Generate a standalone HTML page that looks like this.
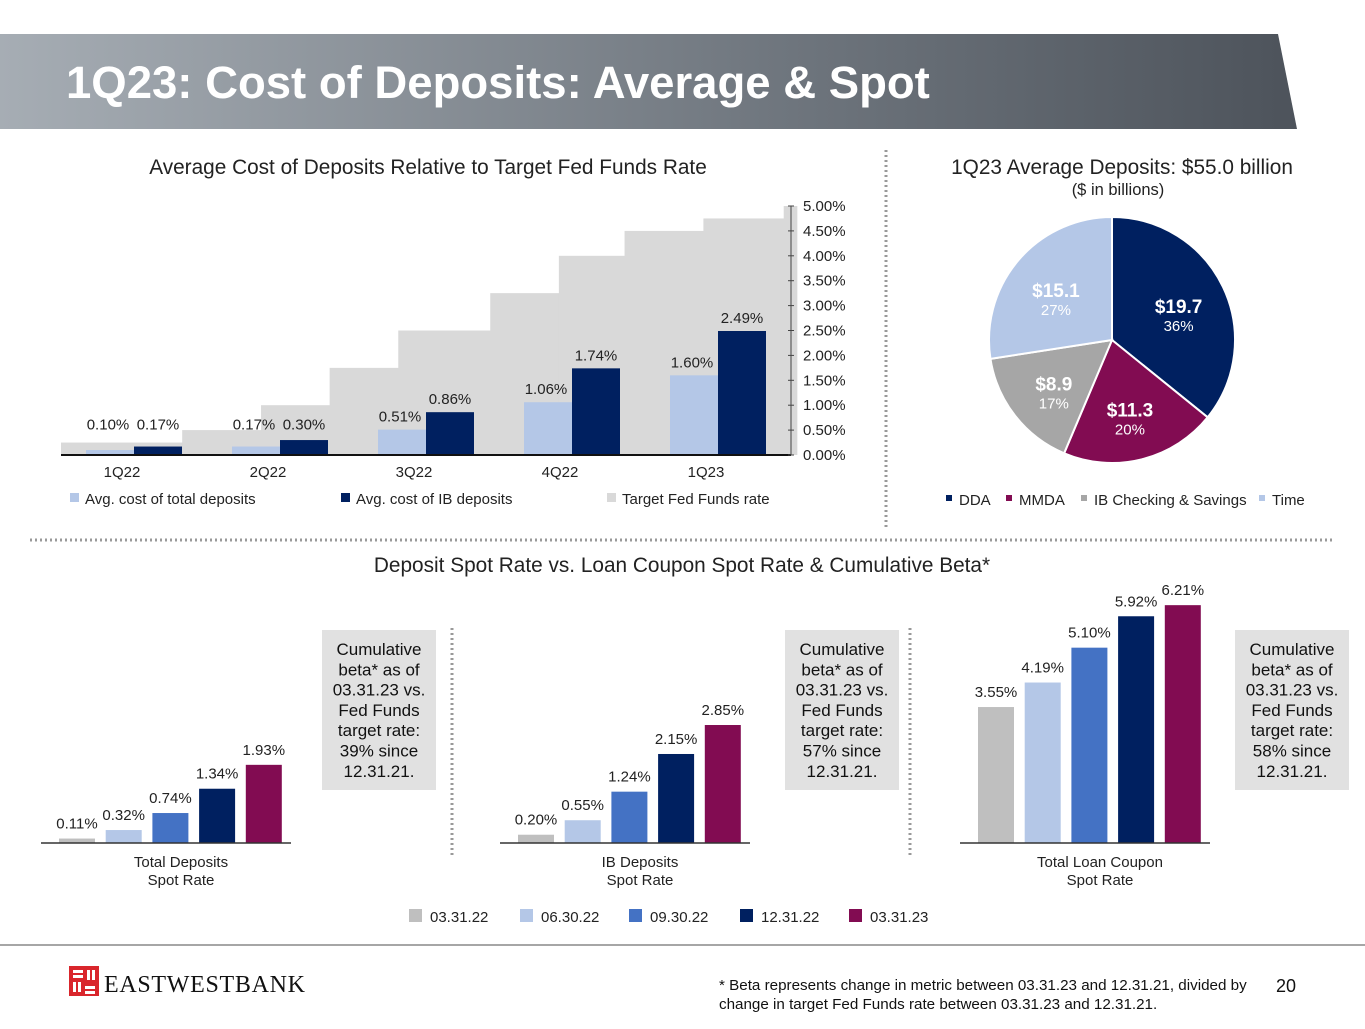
<!DOCTYPE html>
<html><head><meta charset="utf-8"><style>
body{margin:0;width:1365px;height:1024px;background:#fff;overflow:hidden;font-family:"Liberation Sans",Arial,sans-serif}
svg text{font-family:"Liberation Sans",Arial,sans-serif}
</style></head><body>
<svg id="s" width="1365" height="1024" viewBox="0 0 1365 1024" xmlns="http://www.w3.org/2000/svg">
<defs><linearGradient id="hg" x1="0" x2="1"><stop offset="0" stop-color="#a6adb4"/><stop offset="0.6" stop-color="#6f767e"/><stop offset="1" stop-color="#4d535b"/></linearGradient></defs>
<polygon points="0,34 1278,34 1297,129 0,129" fill="url(#hg)"/>
<text x="66" y="98" font-size="45.5" font-weight="bold" fill="#fff">1Q23: Cost of Deposits: Average &amp; Spot</text>
<text x="428" y="174" font-size="20.8" fill="#222" text-anchor="middle">Average Cost of Deposits Relative to Target Fed Funds Rate</text>
<line x1="886" y1="150" x2="886" y2="530" stroke="#999" stroke-width="3" stroke-dasharray="2,3"/>
<line x1="30" y1="540" x2="1335" y2="540" stroke="#999" stroke-width="3" stroke-dasharray="2,3"/>
<text x="1122" y="174" font-size="20.8" fill="#222" text-anchor="middle">1Q23 Average Deposits: $55.0 billion</text>
<text x="1118" y="195" font-size="16.5" fill="#222" text-anchor="middle">($ in billions)</text>
<g id="topchart"></g><g id="pie"></g><g id="bot"></g>
<text x="682" y="572" font-size="20.8" fill="#222" text-anchor="middle">Deposit Spot Rate vs. Loan Coupon Spot Rate &amp; Cumulative Beta*</text>
<line x1="452" y1="628" x2="452" y2="855" stroke="#999" stroke-width="3" stroke-dasharray="2,3"/>
<line x1="910" y1="628" x2="910" y2="855" stroke="#999" stroke-width="3" stroke-dasharray="2,3"/>
<line x1="0" y1="945" x2="1365" y2="945" stroke="#888" stroke-width="1.5"/>
<g>
<rect x="69" y="966" width="30" height="30" fill="#d9262c"/>
<path d="M73 970h10v3h-10zM73 975h10v3h-10zM87 970v10h3v-10zM92 970v10h3v-10zM73 982v10h3v-10zM78 982v10h3v-10zM85 986h10v3h-10zM85 991h10v3h-10z" fill="#fff"/>
<text x="104" y="992" font-size="24" fill="#111" textLength="201" style="font-family:'Liberation Serif',serif">EASTWESTBANK</text>
</g>
<text font-size="15.2" fill="#111"><tspan x="719" y="990">* Beta represents change in metric between 03.31.23 and 12.31.21, divided by</tspan><tspan x="719" y="1009">change in target Fed Funds rate between 03.31.23 and 12.31.21.</tspan></text>
<text x="1276" y="992" font-size="18" fill="#111">20</text>
</svg>
<script>
const NS='http://www.w3.org/2000/svg';
function mk(p,t,a,tx){const e=document.createElementNS(NS,t);for(const k in a)e.setAttribute(k,a[k]);if(tx!==undefined)e.textContent=tx;p.appendChild(e);return e;}
// ---- top bar chart data ----
const quarters=['1Q22','2Q22','3Q22','4Q22','1Q23'];
const avgTotal=[0.10,0.17,0.51,1.06,1.60];
const avgIB=[0.17,0.30,0.86,1.74,2.49];
// Fed funds upper target and the time (in quarters from start of 1Q22) each rate took effect
const fedRates=[0.25,0.5,1.0,1.75,2.5,3.25,4.0,4.5,4.75,5.0];
const fedStart=[0,0.83,1.37,1.84,2.31,2.94,3.41,3.86,4.4,4.95];
const fedEnd=5.04;
const yTicks=[0,0.5,1,1.5,2,2.5,3,3.5,4,4.5,5];
const topG=document.getElementById('topchart');
const y0=455,yPer=49.8;
const Y=v=>y0-v*yPer;
const TX=q=>61+q*146;
fedRates.forEach((v,i)=>{const x1=TX(fedStart[i]),x2=TX(i+1<fedStart.length?fedStart[i+1]:fedEnd);
 const r=mk(topG,'rect',{x:x1,y:Y(v),width:x2-x1+0.5,height:v*yPer,fill:'#d9d9d9'});
 
 });
const X=i=>TX(i+0.5);
quarters.forEach((q,i)=>{
 const a=mk(topG,'rect',{x:X(i)-48,y:Y(avgTotal[i]),width:48,height:avgTotal[i]*yPer,fill:'#b4c7e7'});
 
 
 const b=mk(topG,'rect',{x:X(i),y:Y(avgIB[i]),width:48,height:avgIB[i]*yPer,fill:'#002060'});
 
 
 mk(topG,'text',{x:X(i)-26,y:Y(Math.max(avgTotal[i],i<2?0.35:0))-8,'font-size':15,'text-anchor':'middle',fill:'#222'},avgTotal[i].toFixed(2)+'%');
 mk(topG,'text',{x:X(i)+24,y:Y(Math.max(avgIB[i],i<2?0.35:0))-8,'font-size':15,'text-anchor':'middle',fill:'#222'},avgIB[i].toFixed(2)+'%');
 mk(topG,'text',{x:X(i)-12,y:477,'font-size':15,'text-anchor':'middle',fill:'#222'},q);
});
mk(topG,'line',{x1:61,y1:y0,x2:791,y2:y0,stroke:'#111','stroke-width':2});
mk(topG,'line',{x1:791,y1:Y(5),x2:791,y2:y0,stroke:'#444','stroke-width':1});
yTicks.forEach(v=>{mk(topG,'line',{x1:788,y1:Y(v),x2:794,y2:Y(v),stroke:'#444'});
 const t=mk(topG,'text',{x:803,y:Y(v)+5,'font-size':15,fill:'#222'},v.toFixed(2)+'%');
 
 });
[['#b4c7e7','Avg. cost of total deposits',70],['#002060','Avg. cost of IB deposits',341],['#d9d9d9','Target Fed Funds rate',607]].forEach(l=>{
 const g=mk(topG,'g',{});
 mk(g,'rect',{x:l[2],y:493,width:9,height:9,fill:l[0]});mk(g,'text',{x:l[2]+15,y:504,'font-size':15,fill:'#222'},l[1]);});
// ---- pie ----
const pieLabels=['DDA','MMDA','IB Checking & Savings','Time'];
const pieVals=[19.7,11.3,8.9,15.1];
const piePct=['36%','20%','17%','27%'];
const pieCols=['#002060','#820c52','#a6a6a6','#b4c7e7'];
const pie=document.getElementById('pie');const cx=1112,cy=340,R=123;
const tot=pieVals.reduce((a,b)=>a+b,0);let ang=-Math.PI/2;
pieVals.forEach((v,i)=>{const a2=ang+v/tot*2*Math.PI;
 const p=`M${cx},${cy}L${cx+R*Math.cos(ang)},${cy+R*Math.sin(ang)}A${R},${R} 0 ${a2-ang>Math.PI?1:0} 1 ${cx+R*Math.cos(a2)},${cy+R*Math.sin(a2)}Z`;
 const s=mk(pie,'path',{d:p,fill:pieCols[i],stroke:'#fff','stroke-width':2});
 
 
 const m=(ang+a2)/2,rr=R*0.6;const lx=cx+rr*Math.cos(m),ly=cy+rr*Math.sin(m)+5;
 mk(pie,'text',{x:lx,y:ly,'font-size':19,'font-weight':'bold','text-anchor':'middle',fill:'#fff'},'$'+v.toFixed(1));
 mk(pie,'text',{x:lx,y:ly+18,'font-size':15,'text-anchor':'middle',fill:'#fff'},piePct[i]);
 ang=a2;});
[[946,'DDA'],[1006,'MMDA'],[1081,'IB Checking & Savings'],[1259,'Time']].forEach((l,i)=>{
 const g=mk(pie,'g',{});
 mk(g,'rect',{x:l[0],y:495,width:6,height:6,fill:pieCols[i]});mk(g,'text',{x:l[0]+13,y:505,'font-size':15,fill:'#222'},l[1]);});
// ---- bottom charts ----
const dates=['03.31.22','06.30.22','09.30.22','12.31.22','03.31.23'];
const totalDep=[0.11,0.32,0.74,1.34,1.93];
const ibDep=[0.20,0.55,1.24,2.15,2.85];
const loanCoupon=[3.55,4.19,5.10,5.92,6.21];
const betas=['39%','57%','58%'];
const spotCols=['#bfbfbf','#b4c7e7','#4472c4','#002060','#820c52'];
const bot=document.getElementById('bot');const by=843;
const charts=[[totalDep,41,40.5,['Total Deposits','Spot Rate'],'total-deposits',322],[ibDep,500,41.4,['IB Deposits','Spot Rate'],'ib-deposits',785],[loanCoupon,960,38.3,['Total Loan Coupon','Spot Rate'],'loan-coupon',1235]];
charts.forEach((c,ci)=>{const [vals,x0,sc,lab,nm,bx]=c;
 vals.forEach((v,i)=>{const x=x0+18+i*46.7;
  const r=mk(bot,'rect',{x:x,y:by-v*sc,width:36,height:v*sc,fill:spotCols[i]});
  
  
  mk(bot,'text',{x:x+18,y:by-v*sc-10,'font-size':15,'text-anchor':'middle',fill:'#222'},v.toFixed(2)+'%');});
 mk(bot,'line',{x1:x0,y1:by,x2:x0+250,y2:by,stroke:'#333','stroke-width':1.5});
 mk(bot,'text',{x:x0+140,y:867,'font-size':15,'text-anchor':'middle',fill:'#222'},lab[0]);
 mk(bot,'text',{x:x0+140,y:885,'font-size':15,'text-anchor':'middle',fill:'#222'},lab[1]);
 const g=mk(bot,'g',{});
 mk(g,'rect',{x:bx,y:630,width:114,height:160,fill:'#e1e1e1'});
 ['Cumulative','beta* as of','03.31.23 vs.','Fed Funds','target rate:',betas[ci]+' since','12.31.21.'].forEach((t,k)=>mk(g,'text',{x:bx+57,y:655+k*20.3,'font-size':17,'text-anchor':'middle',fill:'#111'},t));
});
[409,520,629,740,849].forEach((x,i)=>{const g=mk(bot,'g',{});
 
 
 mk(g,'rect',{x:x,y:909,width:13,height:13,fill:spotCols[i]});mk(g,'text',{x:x+21,y:922,'font-size':15,fill:'#222'},dates[i]);});
</script>
</body></html>
